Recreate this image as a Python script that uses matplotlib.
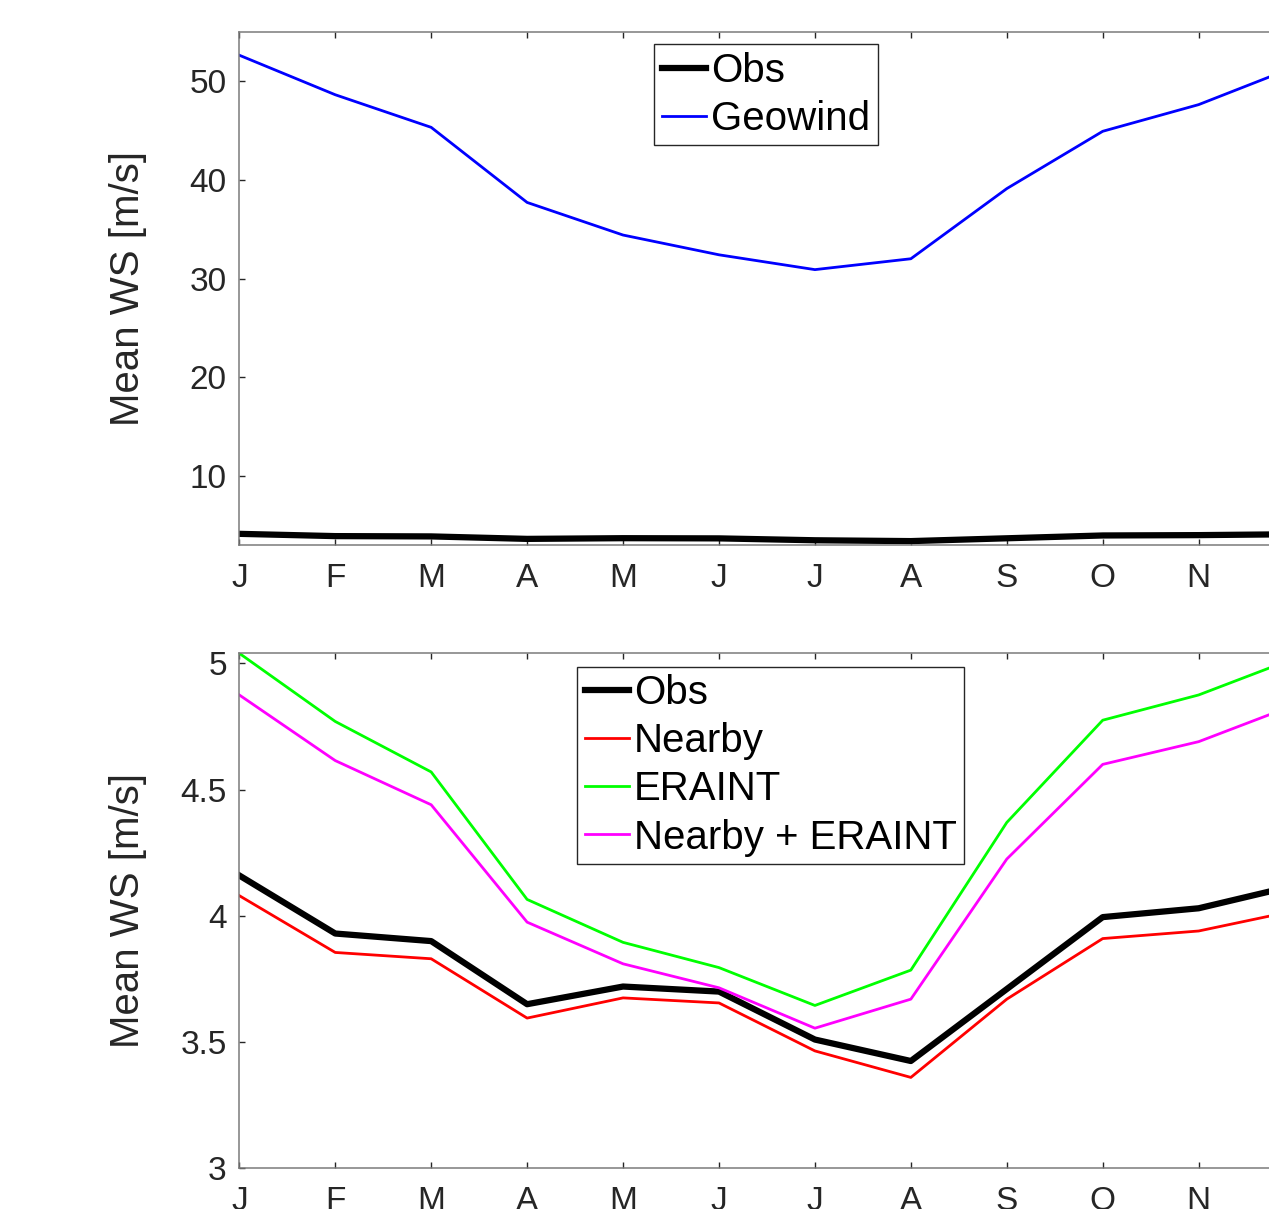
import matplotlib.pyplot as plt

plt.rcParams['font.family'] = ['Liberation Sans', 'DejaVu Sans']

months = ['J', 'F', 'M', 'A', 'M', 'J', 'J', 'A', 'S', 'O', 'N', 'D']
month_idx = list(range(1, 13))

# monthly mean wind speed [m/s]
obs = [4.16, 3.93, 3.90, 3.65, 3.72, 3.70, 3.51, 3.425, 3.71, 3.995, 4.03, 4.12]
geowind = [52.6, 48.6, 45.3, 37.7, 34.4, 32.4, 30.9, 32.0, 39.1, 44.9, 47.6, 51.4]
nearby = [4.08, 3.855, 3.83, 3.595, 3.675, 3.655, 3.465, 3.36, 3.67, 3.91, 3.94, 4.02]
eraint = [5.04, 4.77, 4.57, 4.065, 3.895, 3.795, 3.645, 3.785, 4.37, 4.775, 4.875, 5.02]
nearby_eraint = [4.875, 4.615, 4.44, 3.975, 3.81, 3.715, 3.555, 3.67, 4.225, 4.60, 4.69, 4.835]

W, H = 1269, 1209
fig = plt.figure(figsize=(W / 100, H / 100), dpi=100)

left = 239.3 / W
width_px = 1294.6 - 239.3
width = width_px / W
ax1 = fig.add_axes([left, (H - 545.3) / H, width, (545.3 - 31.5) / H])
ax2 = fig.add_axes([left, (H - 1168.3) / H, width, (1168.3 - 653.3) / H])

thin = 2.0
thick = 4.5
tick_fs = 24
label_fs = 29

ax1.plot(month_idx, obs, color='black', lw=thick, label='Obs')
ax1.plot(month_idx, geowind, color='#0000ff', lw=thin, label='Geowind')
ax1.set_ylim(3, 55)
ax1.set_yticks([10, 20, 30, 40, 50])

ax2.plot(month_idx, obs, color='black', lw=thick, label='Obs')
ax2.plot(month_idx, nearby, color='#ff0000', lw=thin, label='Nearby')
ax2.plot(month_idx, eraint, color='#00ff00', lw=thin, label='ERAINT')
ax2.plot(month_idx, nearby_eraint, color='#ff00ff', lw=thin, label='Nearby + ERAINT')
ax2.set_ylim(3, max(eraint))
ax2.set_yticks([3, 3.5, 4, 4.5, 5])
ax2.set_yticklabels(['3', '3.5', '4', '4.5', '5'])

for ax in (ax1, ax2):
    ax.set_xlim(1, 12)
    ax.set_xticks(month_idx)
    ax.set_xticklabels(months)
    ax.set_ylabel('Mean WS [m/s]', fontsize=label_fs, color='#262626')
    ax.yaxis.set_label_coords((147 - 239.3) / width_px, 0.5)
    ax.tick_params(direction='in', length=4, width=1.0, color='#262626',
                   labelsize=tick_fs, labelcolor='#262626', top=True, right=True)
    ax.tick_params(axis='x', pad=13)
    ax.tick_params(axis='y', pad=9)
    for s in ax.spines.values():
        s.set_color('#7a7a7a')
        s.set_linewidth(1.1)

leg_kw = dict(loc='upper left', fontsize=label_fs, frameon=True, fancybox=False,
              edgecolor='#262626', framealpha=1, borderaxespad=0,
              handlelength=1.1, handletextpad=0.12, labelspacing=0.25,
              borderpad=0.19)
l1 = ax1.legend(bbox_to_anchor=(654 / W, 1 - 44 / H),
                bbox_transform=fig.transFigure, **leg_kw)
l2 = ax2.legend(bbox_to_anchor=(577 / W, 1 - 666.7 / H),
                bbox_transform=fig.transFigure, **leg_kw)
for leg in (l1, l2):
    leg.get_frame().set_linewidth(1.0)

fig.savefig('out.png', dpi=100)
